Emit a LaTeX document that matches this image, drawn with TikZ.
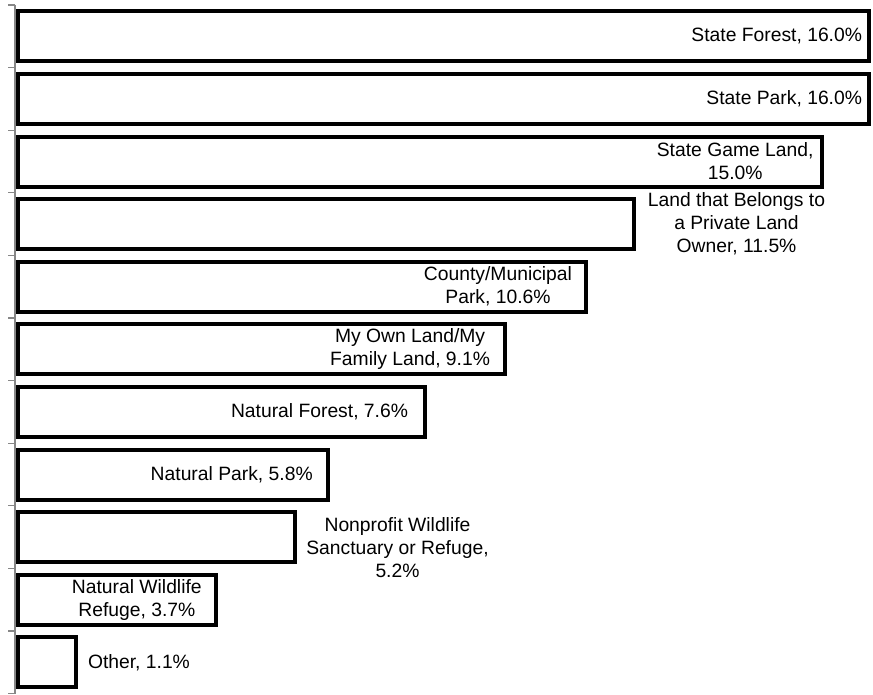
\documentclass[tikz,border=0pt]{standalone}
\usepackage{fontspec}
\setmainfont{Liberation Sans}
\begin{document}
\begin{tikzpicture}[x=1pt,y=-1pt,
  bar/.style={draw=black,line width=4pt,fill=white,minimum height=50pt,inner sep=0pt,outer sep=0pt,anchor=west},
  lbl/.style={font=\fontsize{19.3}{23}\selectfont,align=center,inner sep=0pt,outer sep=0pt,text=black},
  axisline/.style={draw=black!47,line width=1.2pt}]
\useasboundingbox (0,0) rectangle (873,694);
% axis
\draw[axisline] (15,5) -- (15,693.6);
\foreach \k in {0,...,11}{
  \draw[axisline] (8,{5+62.6*\k}) -- (15,{5+62.6*\k});
}
% bars
\node[bar,minimum width=851.5pt] (b1) at (17.5,36.3) {};
\node[bar,minimum width=851.5pt] (b2) at (17.5,98.9) {};
\node[bar,minimum width=804pt] (b3) at (17.5,161.5) {};
\node[bar,minimum width=616.5pt] (b4) at (17.5,224.1) {};
\node[bar,minimum width=568pt] (b5) at (17.5,286.7) {};
\node[bar,minimum width=487.5pt] (b6) at (17.5,349.3) {};
\node[bar,minimum width=407pt] (b7) at (17.5,411.9) {};
\node[bar,minimum width=310pt] (b8) at (17.5,474.5) {};
\node[bar,minimum width=277.5pt] (b9) at (17.5,537.1) {};
\node[bar,minimum width=198pt] (b10) at (17.5,599.7) {};
\node[bar,minimum width=58pt] (b11) at (17.5,662.3) {};
% labels
\node[lbl,anchor=east] (l1) at (862,36.3) {State Forest, 16.0\%};
\node[lbl,anchor=east] (l2) at (862,98.9) {State Park, 16.0\%};
\node[lbl,anchor=east] (l3) at (813.5,161.5) {State Game Land,\\15.0\%};
\node[lbl] (l4) at (736.5,224.1) {Land that Belongs to\\a Private Land\\Owner, 11.5\%};
\node[lbl,anchor=east] (l5) at (572,286.7) {County/Municipal\\Park, 10.6\%};
\node[lbl,anchor=east] (l6) at (490,349.3) {My Own Land/My\\Family Land, 9.1\%};
\node[lbl,anchor=east] (l7) at (408,411.9) {Natural Forest, 7.6\%};
\node[lbl,anchor=east] (l8) at (312.7,474.5) {Natural Park, 5.8\%};
\node[lbl] (l9) at (397.5,548) {Nonprofit Wildlife\\Sanctuary or Refuge,\\5.2\%};
\node[lbl,anchor=east] (l10) at (201.7,599.7) {Natural Wildlife\\Refuge, 3.7\%};
\node[lbl,anchor=west] (l11) at (88,662.3) {Other, 1.1\%};
\end{tikzpicture}
\end{document}
